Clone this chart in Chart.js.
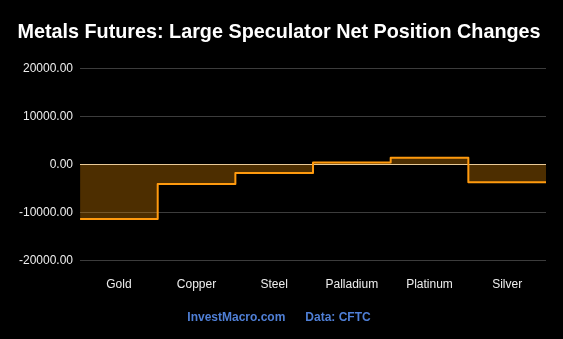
<!DOCTYPE html>
<html>
<head>
<meta charset="utf-8">
<script src="https://cdn.jsdelivr.net/npm/chart.js@4/dist/chart.umd.min.js"></script>
<style>
  html, body { margin: 0; padding: 0; background: #000; }
  #wrap { width: 563px; height: 339px; }
</style>
</head>
<body>
<div id="wrap"><canvas id="myChart"></canvas></div>
<script>
const categories = ['Gold', 'Copper', 'Steel', 'Palladium', 'Platinum', 'Silver'];
const netChanges = [-11400, -4100, -1800, 400, 1400, -3700];
const yTicks = [-20000, -10000, 0, 10000, 20000];

// each category fills its own bin, so the step spans i-0.5 .. i+0.5
const points = netChanges.map(function (v, i) {
  return { x: i - 0.5, y: v };
});
points.push({ x: categories.length - 0.5, y: netChanges[netChanges.length - 1] });

const ctx = document.getElementById('myChart').getContext('2d');

const chart = new Chart(ctx, {
  type: 'line',
  data: {
    datasets: [
      {
        label: 'Net Position Change',
        data: points,
        stepped: 'before',
        borderColor: '#ff9a0e',
        borderWidth: 2,
        borderJoinStyle: 'round',
        backgroundColor: 'rgba(255,153,0,0.3)',
        fill: 'origin',
        pointRadius: 0,
      },
    ],
  },
  options: {
    responsive: true,
    maintainAspectRatio: false,
    animation: false,
    layout: { padding: { left: 12, right: 17 } },
    plugins: {
      legend: { display: false },
      tooltip: { enabled: false },
      title: {
        display: true,
        text: 'Metals Futures: Large Speculator Net Position Changes',
        color: '#ffffff',
        font: { family: 'Liberation Sans, Arial', size: 19.8, weight: 'bold' },
        padding: { top: 21, bottom: 24 },
      },
      subtitle: {
        display: true,
        position: 'bottom',
        text: 'InvestMacro.com      Data: CFTC',
        color: '#4f7fd6',
        font: { family: 'Liberation Sans, Arial', size: 12, weight: 'bold' },
        padding: { top: 10, bottom: 14 },
      },
    },
    scales: {
      x: {
        type: 'linear',
        min: -0.5,
        max: categories.length - 0.5,
        afterBuildTicks: function (scale) {
          scale.ticks = categories.map(function (c, i) { return { value: i }; });
        },
        grid: { display: false },
        border: { display: false },
        ticks: {
          color: '#eeeeee',
          padding: 9,
          maxRotation: 0,
          font: { family: 'Liberation Sans, Arial', size: 12 },
          callback: function (value) { return categories[value]; },
        },
      },
      y: {
        min: yTicks[0],
        max: yTicks[yTicks.length - 1],
        afterBuildTicks: function (scale) {
          scale.ticks = yTicks.map(function (v) { return { value: v }; });
        },
        border: { display: false },
        grid: {
          drawTicks: false,
          color: function (c) {
            return c.tick && c.tick.value === 0 ? '#e6d3b3' : '#3c3c3c';
          },
        },
        ticks: {
          color: '#eeeeee',
          padding: 7,
          font: { family: 'Liberation Sans, Arial', size: 12 },
          callback: function (value) { return value.toFixed(2); },
        },
      },
    },
  },
});
</script>
</body>
</html>
